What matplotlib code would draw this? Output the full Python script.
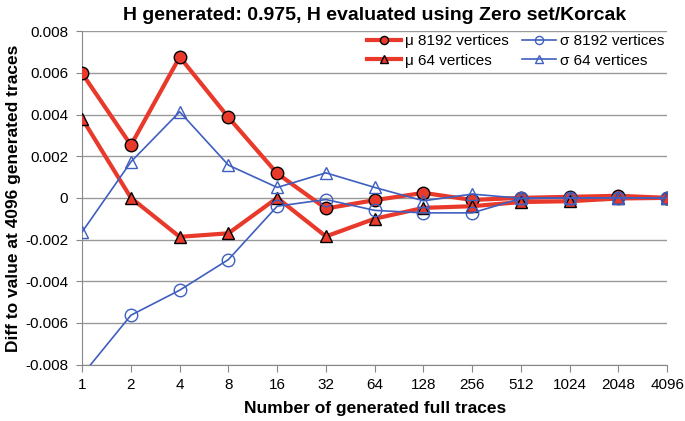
import numpy as np
import matplotlib
matplotlib.use("Agg")
import matplotlib.pyplot as plt

plt.rcParams['font.family'] = ['Liberation Sans', 'DejaVu Sans']

# Data
traces = ['1', '2', '4', '8', '16', '32', '64', '128', '256', '512', '1024', '2048', '4096']
mu_8192 = [0.00597, 0.00253, 0.00676, 0.00386, 0.00117, -0.00051, -0.00011, 0.00024, -0.0001, 0.0, 0.00005, 0.0001, 0.0]
mu_64 = [0.0038, 0.0, -0.00187, -0.0017, 0.0, -0.00185, -0.001, -0.00048, -0.0004, -0.0002, -0.00016, -0.00003, 0.0]
sigma_8192 = [-0.0085, -0.00563, -0.00443, -0.00296, -0.0004, -0.00008, -0.0006, -0.00072, -0.00072, -0.00003, 0.0, 0.0, 0.0]
sigma_64 = [-0.00163, 0.00173, 0.00413, 0.00157, 0.0005, 0.0012, 0.0005, -0.00014, 0.00018, -0.00002, 0.0, 0.0, 0.0]

red = '#E8392B'
blue = '#3F5FBF'

fig, ax = plt.subplots(figsize=(6.85, 4.21), dpi=100)
fig.subplots_adjust(left=0.12, right=0.974, top=0.926, bottom=0.134)

x = np.arange(len(traces))
ax.plot(x, mu_8192, color=red, lw=3, marker='o', ms=9, mfc=red, mec='black', mew=1,
        label='μ 8192 vertices', zorder=4)
ax.plot(x, mu_64, color=red, lw=3, marker='^', ms=9, mfc=red, mec='black', mew=1,
        label='μ 64 vertices', zorder=4)
ax.plot(x, sigma_8192, color=blue, lw=1.2, marker='o', ms=9, mfc='none', mec=blue, mew=1,
        label='σ 8192 vertices', zorder=5)
ax.plot(x, sigma_64, color=blue, lw=1.2, marker='^', ms=9, mfc='none', mec=blue, mew=1,
        label='σ 64 vertices', zorder=5)

ax.set_xlim(0, len(traces) - 1)
ax.set_ylim(-0.008, 0.008)
ax.set_yticks(np.arange(-0.008, 0.0081, 0.002))
ax.set_yticklabels(['-0.008', '-0.006', '-0.004', '-0.002', '0', '0.002', '0.004', '0.006', '0.008'])
ax.set_xticks(x)
ax.set_xticklabels(traces)
ax.tick_params(axis='both', labelsize=11, colors='#888888', labelcolor='black')
ax.tick_params(axis='y', length=4, pad=6)
ax.tick_params(axis='x', length=5, pad=5)
ax.grid(axis='y', color='#999999', lw=1)
ax.set_axisbelow(True)
for s in ['top', 'right']:
    ax.spines[s].set_visible(False)
for s in ['left', 'bottom']:
    ax.spines[s].set_color('#888888')

ax.set_title('H generated: 0.975, H evaluated using Zero set/Korcak', fontsize=14, fontweight='bold', pad=8)
ax.set_xlabel('Number of generated full traces', fontsize=12.5, fontweight='bold', labelpad=6)
ax.set_ylabel('Diff to value at 4096 generated traces', fontsize=12.5, fontweight='bold', labelpad=3)

ax.legend(ncol=2, loc='upper right', bbox_to_anchor=(1.0, 1.0), frameon=False, fontsize=11,
          handlelength=2.2, handletextpad=0.25, columnspacing=0.9, labelspacing=0.35,
          borderpad=0.2, borderaxespad=0, markerscale=0.65)

fig.savefig('out.png', dpi=100)
